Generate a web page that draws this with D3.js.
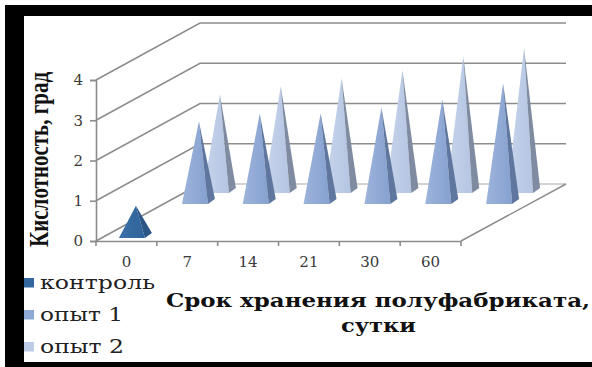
<!DOCTYPE html>
<html lang="ru">
<head>
<meta charset="utf-8">
<script src="https://cdn.jsdelivr.net/npm/d3@7"></script>
<style>
html,body{margin:0;padding:0;background:#fff}
svg{display:block}
</style>
</head>
<body>
<svg id="chart" width="592" height="367"></svg>
<script>
// Кислотность полуфабриката по срокам хранения
const categories = ["0", "7", "14", "21", "30", "60"];
const valueTicks = [0, 1, 2, 3, 4];
const seriesNames = ["контроль", "опыт 1", "опыт 2"];
const control = [0.8, null, null, null, null, null];
const trial1 = [2.05, 2.25, 2.25, 2.4, 2.6, 3.0];
const trial2 = [2.45, 2.65, 2.85, 3.05, 3.4, 3.6];

const svg = d3.select("#chart");

const x = d3.scaleBand().domain(categories).range([96, 461]);
const y = d3.scaleLinear().domain([0, 4]).range([241, 80]);

// Глубина трёхмерной сцены: смещение задней стенки и рядов
const wall = { dx: 104, dy: 57 };
const rows = [
  { name: seriesNames[0], values: control, dx: 9.5, dy: 3, light: "#3a70a8", mid: "#2f6399", dark: "#2b5685", swatch: "#33689f" },
  { name: seriesNames[1], values: trial1, dx: 72.5, dy: 37, light: "#9db3db", mid: "#86a1d0", dark: "#5f779e", swatch: "#8fa9d6" },
  { name: seriesNames[2], values: trial2, dx: 93.5, dy: 48, light: "#c8d4ea", mid: "#b4c5e3", dark: "#7f8ba0", swatch: "#bccbe6" }
];

const gridColor = "#8c8c8c";
const floorColor = "#c4c4c4";
const grid = svg.append("g").attr("fill", "none").attr("stroke", gridColor).attr("stroke-width", 1.5);

// Дальняя кромка дна
grid.append("path")
  .attr("stroke", floorColor)
  .attr("d", d3.line()([
    [x.range()[0] + wall.dx, y(0) - wall.dy],
    [x.range()[1] + wall.dx + 1, y(0) - wall.dy]
  ]));

// Задняя стенка и левая боковая грань
grid.selectAll("path.level").data(valueTicks).join("path")
  .attr("class", "level")
  .attr("d", v => d3.line()(v === 0
    ? [[x.range()[0], y(v)], [x.range()[0] + wall.dx, y(v) - wall.dy]]
    : [[x.range()[0], y(v)], [x.range()[0] + wall.dx, y(v) - wall.dy], [x.range()[1] + wall.dx + 1, y(v) - wall.dy]]));

// Правый край дна
grid.append("path")
  .attr("d", d3.line()([
    [x.range()[1], y(0)],
    [x.range()[1] + wall.dx + 1, y(0) - wall.dy]
  ]));

// Пирамиды: дальний ряд рисуется первым
const defs = svg.append("defs");
rows.forEach((r, i) => {
  const g = defs.append("linearGradient").attr("id", "face" + i)
    .attr("x1", 0).attr("x2", 1).attr("y1", 0).attr("y2", 0);
  g.append("stop").attr("offset", "0%").attr("stop-color", r.light);
  g.append("stop").attr("offset", "100%").attr("stop-color", r.mid);
});

const half = { left: 17, front: 9, right: 16, rise: 5 };
const height = v => y(0) - y(v);

[2, 1, 0].forEach(i => {
  const r = rows[i];
  const points = categories
    .map((c, k) => ({ c, v: r.values[k] }))
    .filter(d => d.v !== null);
  const group = svg.append("g").attr("class", "series-" + i);
  const item = group.selectAll("g").data(points).join("g");
  const cx = d => x(d.c) + x.bandwidth() / 2 + r.dx;
  const base = y(0) - r.dy;
  item.append("path")
    .attr("fill", "url(#face" + i + ")")
    .attr("d", d => d3.line()([
      [cx(d), base - height(d.v)],
      [cx(d) - half.left, base],
      [cx(d) + half.front, base]
    ]) + "Z");
  item.append("path")
    .attr("fill", r.dark)
    .attr("d", d => d3.line()([
      [cx(d), base - height(d.v)],
      [cx(d) + half.front, base],
      [cx(d) + half.right, base - half.rise]
    ]) + "Z");
});

// Оси
const textGrey = "#3a3a3a";
const axisY = svg.append("g").attr("transform", `translate(${x.range()[0]},0)`)
  .call(d3.axisLeft(y).tickValues(valueTicks).tickSize(6).tickPadding(7).tickFormat(d3.format("d")));
const axisX = svg.append("g").attr("transform", `translate(0,${y(0)})`)
  .call(d3.axisBottom(x).tickSize(0).tickPadding(15));
[axisY, axisX].forEach(a => {
  a.select(".domain").attr("stroke", gridColor).attr("stroke-width", 1.6);
  a.selectAll(".tick line").attr("stroke", gridColor).attr("stroke-width", 1.6);
  a.selectAll("text").attr("font-family", "'DejaVu Serif', serif").attr("font-size", 15)
    .attr("fill", textGrey);
});

// Штрихи между категориями на нижней оси
svg.append("g").selectAll("line").data(categories.concat("end")).join("line")
  .attr("x1", d => d === "end" ? x.range()[1] : x(d))
  .attr("x2", d => d === "end" ? x.range()[1] : x(d))
  .attr("y1", y(0)).attr("y2", y(0) + 5)
  .attr("stroke", gridColor).attr("stroke-width", 1.6);

// Подписи осей
svg.append("text")
  .attr("transform", "translate(48,247) rotate(-90)")
  .attr("font-family", "'Liberation Serif', 'DejaVu Serif', serif").attr("font-weight", 700).attr("font-size", 27)
  .attr("textLength", 175).attr("lengthAdjust", "spacingAndGlyphs")
  .attr("fill", "#111").text("Кислотность, град");

svg.append("text")
  .attr("x", 166).attr("y", 307)
  .attr("font-family", "'DejaVu Serif', serif").attr("font-weight", 700).attr("font-size", 18.5)
  .attr("textLength", 424).attr("lengthAdjust", "spacingAndGlyphs")
  .attr("fill", "#111").text("Срок хранения полуфабриката,");
svg.append("text")
  .attr("x", 341).attr("y", 332)
  .attr("font-family", "'DejaVu Serif', serif").attr("font-weight", 700).attr("font-size", 18.5)
  .attr("textLength", 75).attr("lengthAdjust", "spacingAndGlyphs")
  .attr("fill", "#111").text("сутки");

// Легенда
const legendY = d3.scalePoint().domain(seriesNames).range([283, 347]);
const legendWidth = d3.scaleOrdinal().domain(seriesNames).range([115, 83, 84]);
const legend = svg.append("g").selectAll("g").data(rows).join("g")
  .attr("transform", d => `translate(0,${legendY(d.name)})`);
legend.append("rect")
  .attr("x", 24).attr("y", -5).attr("width", 10).attr("height", 9.5)
  .attr("fill", d => d.swatch);
legend.append("text")
  .attr("x", 40).attr("y", 6)
  .attr("font-family", "'DejaVu Serif', serif").attr("font-size", 18.5)
  .attr("textLength", d => legendWidth(d.name)).attr("lengthAdjust", "spacingAndGlyphs")
  .attr("fill", "#222").text(d => d.name);

// Чёрная рамка снимка
const frame = svg.append("g").attr("fill", "#000");
frame.append("rect").attr("x", 5).attr("y", 5).attr("width", 587).attr("height", 11);
frame.append("rect").attr("x", 5).attr("y", 5).attr("width", 19).attr("height", 362);
frame.append("rect").attr("x", 5).attr("y", 362).attr("width", 587).attr("height", 5);
</script>
</body>
</html>
